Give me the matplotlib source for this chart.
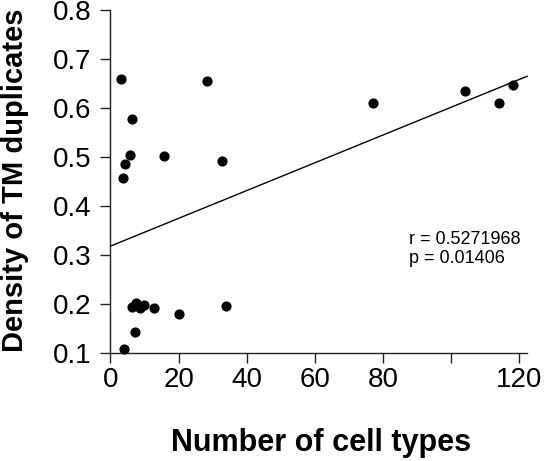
import numpy as np
import matplotlib.pyplot as plt

plt.rcParams['font.family'] = ['Liberation Sans', 'DejaVu Sans']

# number of cell types vs density of TM duplicates
cell_types = [3.1, 28.4, 6.3, 5.8, 15.6, 4.4, 32.8, 3.8, 6.3, 7.5, 8.8, 9.8,
              12.8, 20.0, 33.9, 7.3, 4.0, 77.1, 104.1, 113.9, 118.1]
density = [0.659, 0.656, 0.577, 0.504, 0.502, 0.486, 0.493, 0.458, 0.194, 0.202,
           0.192, 0.198, 0.192, 0.179, 0.195, 0.143, 0.1075, 0.610, 0.636, 0.610, 0.648]

# fitted line
fit_intercept = 0.318
fit_slope = 0.00284
fit_range = [0, 122.3]

xticks = [0, 20, 40, 60, 80, 100, 120]
xticklabels = ['0', '20', '40', '60', '80', '', '120']
yticks = [0.1, 0.2, 0.3, 0.4, 0.5, 0.6, 0.7, 0.8]

r_text = "r = 0.5271968\np = 0.01406"

fig = plt.figure(figsize=(5.44, 4.61), dpi=100)
ax = fig.add_axes([0.178, 0.203, 0.8017, 0.7957])

ax.scatter(cell_types, density, s=40, color='black', zorder=3, clip_on=False)
fx = np.array(fit_range)
ax.plot(fx, fit_intercept + fit_slope * fx, color='black', lw=1.0)

ax.set_xlim(-4, 124)
ax.set_ylim(0.07, 0.82)

# R style axes
ax.spines['top'].set_visible(False)
ax.spines['right'].set_visible(False)
ax.spines['left'].set_position(('data', 0))
ax.spines['bottom'].set_position(('data', 0.1))
ax.spines['left'].set_bounds(0.1, 0.8)
ax.spines['bottom'].set_bounds(0, 122.3)
for s in ['left', 'bottom']:
    ax.spines[s].set_linewidth(1.0)
    ax.spines[s].set_color('#222222')

ax.set_xticks(xticks)
ax.set_xticklabels(xticklabels)
ax.set_yticks(yticks)
ax.set_yticklabels([f"{v:.1f}" for v in yticks])
ax.tick_params(direction='out', length=7.5, width=1.0, color='#222222',
               labelsize=20)
ax.tick_params(axis='x', pad=3)
ax.tick_params(axis='y', pad=6)

ax.text(87.7, 0.3125, r_text, fontsize=13, va='center', ha='left', linespacing=1.15)

fig.text(0.591, 0.039, "Number of cell types", fontsize=22, fontweight='bold',
         ha='center', va='center')
fig.text(0.027, 0.608, "Density of TM duplicates", fontsize=21, fontweight='bold',
         ha='center', va='center', rotation=90)

fig.savefig("out.png", dpi=100)
